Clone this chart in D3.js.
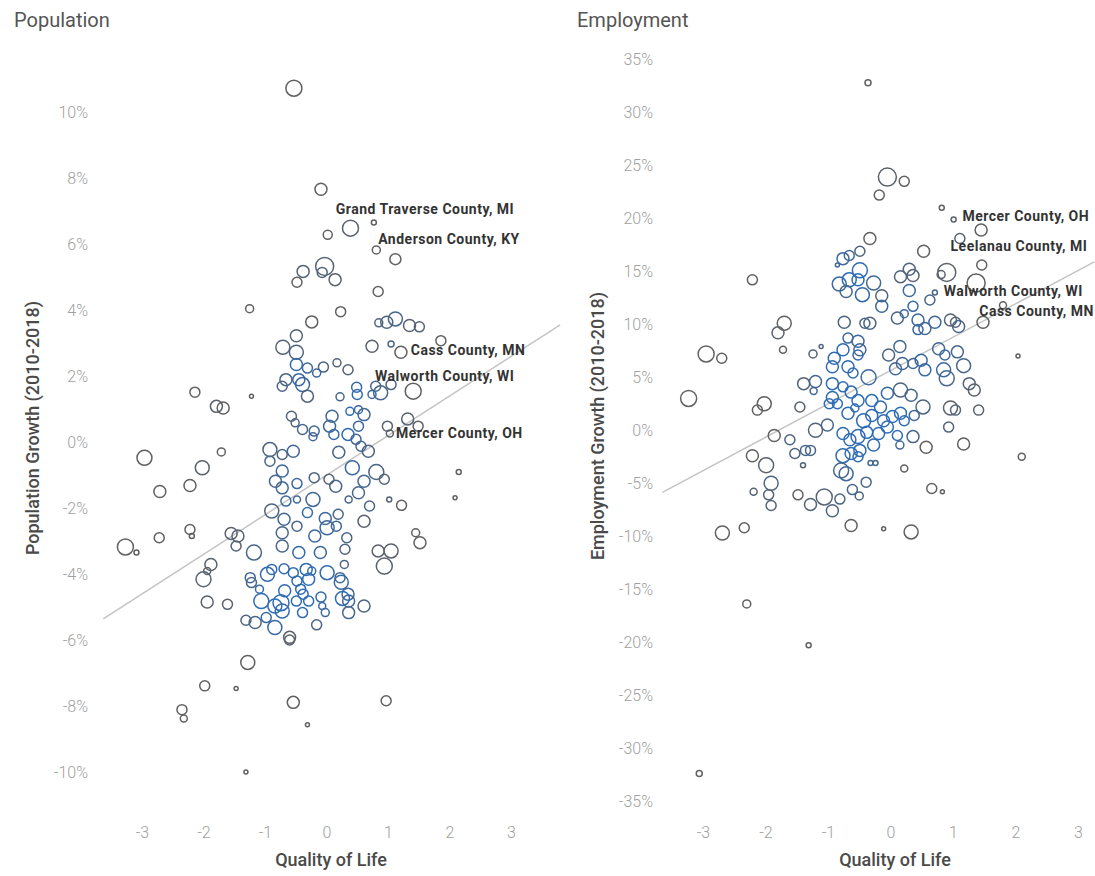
<!DOCTYPE html>
<html>
<head>
<meta charset="utf-8">
<script src="https://cdn.jsdelivr.net/npm/d3@7"></script>
<style>
  body { margin: 0; background: #fff; }
  svg { display: block; font-family: Roboto, "Noto Sans", sans-serif; }
</style>
</head>
<body>
<div id="chart"></div>
<script>
// quality of life, growth %, radius
const popPoints = [
  [-0.53,10.72,8],[-0.09,7.66,6],[0.39,6.48,8],[0.77,6.65,2.5],[0.02,6.28,4.5],[0.81,5.82,4],
  [1.12,5.54,5.5],[-0.03,5.32,9],[-0.38,5.17,6],[-0.48,4.84,5],[-0.07,5.14,5],[0.14,4.92,6],
  [0.84,4.56,5],[-1.25,4.04,4],[0.23,3.95,5],[-0.24,3.64,6],[0.98,3.63,6],[1.12,3.73,7],
  [1.35,3.53,6],[1.51,3.49,5],[0.85,3.61,4],[-0.49,3.22,6],[-0.71,2.87,7],[-0.49,2.72,7],
  [0.74,2.90,6],[1.05,2.97,3],[1.21,2.72,6],[1.86,3.07,5],[-0.49,2.35,6],[-0.31,2.24,5],
  [-0.05,2.27,5],[0.17,2.40,4],[0.35,2.19,5],[-0.16,2.09,4],[-0.66,1.89,6],[-0.45,1.89,6],
  [-0.72,1.69,5],[-0.39,1.74,7],[-0.31,1.39,6],[0.49,1.66,5],[0.50,1.44,5],[0.22,1.37,4],
  [0.80,1.69,5],[0.88,1.49,7],[1.05,1.74,5],[1.41,1.54,8],[0.74,1.44,4],[-2.14,1.51,5],
  [-1.22,1.39,2],[-1.79,1.08,6],[-1.68,1.03,6],[-0.57,0.78,5],[-0.51,0.58,4],[-0.39,0.38,5],
  [-0.20,0.33,5],[-0.22,0.16,4],[0.09,0.78,6],[0.05,0.48,6],[0.12,0.23,5],[0.38,0.93,4],
  [0.52,0.98,4],[0.61,0.83,6],[0.52,0.48,5],[0.35,0.23,6],[0.48,0.08,5],[0.56,-0.13,5],
  [0.68,-0.28,6],[0.99,0.48,5],[1.32,0.70,6],[1.49,0.48,5],[1.03,0.26,3.5],[-0.92,-0.23,7],
  [-0.72,-0.38,5],[-0.54,-0.28,6],[-0.92,-0.58,5],[0.20,-0.31,6],[-2.96,-0.48,7.5],[-1.71,-0.30,4],
  [-2.02,-0.78,7],[-2.22,-1.32,6],[-2.71,-1.50,6],[-0.72,-0.88,6],[-0.83,-1.19,6],[-0.72,-1.39,6],
  [-0.48,-1.26,5],[-0.20,-1.08,5],[0.04,-1.13,5],[0.15,-1.34,6],[0.42,-0.78,7],[0.81,-0.91,7.5],
  [0.61,-1.19,6],[0.94,-1.13,5],[0.52,-1.54,6],[0.70,-1.94,5],[1.22,-1.92,5],[1.02,-1.74,2.5],
  [2.15,-0.91,2.5],[2.09,-1.69,2],[-0.22,-1.74,7],[-0.66,-1.79,5],[-0.48,-1.74,3.5],[0.36,-1.74,3.5],
  [-0.89,-2.09,7],[-0.31,-2.14,5],[0.19,-2.19,5],[-0.02,-2.32,6],[-0.69,-2.34,6],[-0.48,-2.55,5],
  [0.61,-2.40,6],[0.01,-2.60,7],[0.16,-2.55,5],[-0.72,-2.75,6],[-0.19,-2.85,6],[0.33,-2.90,5],
  [-2.22,-2.65,5],[-2.19,-2.85,2.5],[-1.55,-2.77,6],[-1.44,-2.85,6],[-1.47,-3.15,5],[-1.18,-3.35,7.5],
  [-2.72,-2.90,5],[-3.27,-3.18,8],[-3.09,-3.35,2.5],[-0.72,-3.15,6],[-0.45,-3.35,6],[-0.10,-3.35,6],
  [0.30,-3.25,5],[0.84,-3.30,6],[1.05,-3.30,7],[0.94,-3.76,8],[1.45,-2.75,4],[1.52,-3.05,6],
  [0.29,-3.71,4],[-1.88,-3.71,6],[-0.89,-3.86,5],[-0.69,-3.84,5],[-0.33,-3.86,6],[0.01,-3.96,7],
  [0.22,-4.11,5],[-1.24,-4.11,5],[-2.00,-4.16,7.5],[-1.94,-3.91,3.5],[-1.22,-4.26,5],[-0.96,-4.01,7],
  [-0.54,-3.96,5],[-0.48,-4.21,5],[-0.29,-4.16,6],[-0.24,-3.91,4],[0.24,-4.25,7],[-1.09,-4.46,4],
  [-0.68,-4.51,6],[-0.42,-4.46,5],[-0.38,-4.61,5],[-0.09,-4.70,5],[0.35,-4.61,6],[-1.94,-4.85,6],
  [-1.61,-4.92,5],[-1.06,-4.82,7.5],[-0.74,-4.87,8],[-0.84,-4.97,7],[-0.49,-4.82,5],[-0.29,-4.82,5],
  [-0.07,-4.97,3.5],[0.26,-4.74,7],[0.36,-4.82,6],[0.61,-4.97,6],[-0.72,-5.12,7],[-0.39,-5.17,5],
  [-0.02,-5.17,4],[0.36,-5.17,6],[-1.31,-5.40,5],[-1.16,-5.47,6],[-0.98,-5.32,5],[-0.84,-5.62,7],
  [-0.16,-5.54,5],[-0.60,-5.92,6],[-0.60,-6.00,5],[-1.28,-6.68,7],[-1.98,-7.39,5],[-1.47,-7.47,2],
  [-0.54,-7.89,6],[0.97,-7.84,5],[-2.35,-8.11,5],[-2.32,-8.38,3.5],[-0.31,-8.57,2],[-1.31,-10.0,2]
];

const empPoints = [
  [-0.36,32.8,3],[-0.05,23.9,9],[0.22,23.5,5],[-0.18,22.2,5],[0.82,21.0,2.5],[1.01,19.9,2.5],
  [1.45,18.9,6],[1.11,18.1,5],[-0.33,18.1,6],[-0.49,16.9,5],[0.53,16.9,6],[-0.66,16.5,5],
  [-0.76,16.2,6],[-0.85,15.6,2],[1.46,15.6,5],[-0.49,15.1,7.5],[0.30,15.2,6],[0.90,14.9,9],
  [0.81,14.7,4],[1.37,13.9,9],[-2.21,14.2,5],[-0.82,13.8,7],[-0.66,14.2,7],[-0.52,14.2,6],
  [-0.27,13.9,7],[0.16,14.5,6],[0.36,14.6,6],[-0.71,13.1,6],[-0.45,12.8,7],[-0.14,12.7,6],
  [0.30,13.2,6],[0.71,13.0,2.5],[-0.14,11.7,6],[0.36,11.7,5],[0.63,12.3,5],[1.80,11.8,3.5],
  [1.48,10.2,6],[0.11,10.6,6],[0.22,11.0,4],[0.44,10.4,6],[0.55,9.6,6],[0.71,10.2,6],
  [0.96,10.4,6],[1.09,9.8,6],[1.04,10.2,5],[0.44,9.5,5],[-0.74,10.2,6],[-0.41,10.1,5],
  [-0.33,10.1,6],[-1.70,10.1,7],[-1.80,9.2,6],[-1.72,7.6,3.5],[-2.95,7.2,8],[-2.70,6.8,5],
  [-3.23,3.0,8],[-1.24,7.2,4],[-1.11,7.9,2],[-0.68,8.7,5],[-0.52,8.4,6],[-0.49,7.6,6],
  [-0.76,7.6,6],[-0.90,6.8,6],[-0.52,7.1,5],[-0.03,7.1,6],[0.15,7.9,6],[0.77,7.7,6],
  [0.87,7.1,5],[1.07,7.4,6],[1.17,6.1,7],[2.04,7.0,2],[-0.93,6.0,6],[-0.68,6.0,6],
  [-0.60,5.4,5],[-0.35,5.0,7.5],[0.08,5.8,6],[0.19,6.3,6],[0.36,6.3,5],[0.49,6.6,6],
  [0.55,5.7,6],[0.85,5.7,7],[0.90,4.9,7.5],[1.26,4.4,6],[1.34,3.8,6],[-1.39,4.4,6],
  [-1.20,4.6,6],[-1.23,3.7,3.5],[-0.93,4.4,6],[-0.76,4.1,5],[-0.63,3.6,6],[-0.93,3.1,6],
  [-0.85,2.5,5],[-0.98,2.5,5],[-0.52,2.8,6],[-0.30,2.8,6],[-0.16,2.2,6],[-0.05,3.5,6],
  [0.16,3.8,7],[0.33,3.3,6],[0.52,2.2,7],[0.38,1.4,5],[0.16,1.6,6],[0.03,1.3,6],
  [-0.11,0.9,6],[-0.30,1.4,6],[-0.43,0.9,7],[-0.68,1.6,6],[-0.57,2.1,4],[0.96,2.1,7],
  [1.04,1.9,5],[1.41,1.9,5],[0.93,0.3,5],[1.17,-1.3,6],[2.10,-2.5,3.5],[-2.02,2.5,7],
  [-2.13,1.9,5],[-1.45,2.2,5],[-1.86,-0.5,6],[-1.61,-0.9,5],[-1.53,-2.2,5],[-1.28,-1.9,5],
  [-1.36,-1.9,5],[-1.20,0.0,7],[-1.01,0.5,6],[-0.76,-0.3,6],[-0.65,-0.9,6],[-0.52,-0.6,7],
  [-0.38,-0.2,6],[-0.19,-0.3,6],[-0.05,0.3,6],[-0.27,-1.4,6],[-0.49,-1.9,6],[-0.63,-2.2,6],
  [-0.76,-2.4,7],[-0.52,-2.5,5],[0.11,-0.5,5],[0.36,-0.6,6],[0.15,-1.4,4],[0.57,-1.6,6],
  [0.22,0.9,5],[-2.21,-2.4,6],[-1.99,-3.3,7.5],[-1.91,-5.0,7],[-1.95,-6.1,5],[-1.91,-7.1,5],
  [-2.19,-5.8,3.5],[-1.40,-3.3,2.5],[-1.48,-6.1,5],[-1.28,-7.0,6],[-1.06,-6.3,8],[-0.93,-7.6,6],
  [-0.81,-6.5,5],[-0.79,-3.8,7.5],[-0.71,-4.1,7],[-0.61,-5.6,5],[-0.50,-6.2,4],[-0.39,-4.9,5],
  [-0.32,-3.1,2.5],[-0.24,-3.1,2.5],[0.22,-3.6,3.5],[0.66,-5.5,5],[0.83,-5.8,2],[-0.63,-9.0,6],
  [-0.11,-9.3,2],[0.33,-9.6,7],[-2.69,-9.7,7],[-2.34,-9.2,5],[-2.30,-16.4,4],[-1.31,-20.3,2.5],
  [-3.06,-32.4,3]
];

const popLabels = [
  ["Grand Traverse County, MI", 0.15, 6.90],
  ["Anderson County, KY", 0.84, 6.00],
  ["Cass County, MN", 1.37, 2.64],
  ["Walworth County, WI", 0.79, 1.86],
  ["Mercer County, OH", 1.13, 0.11]
];
const empLabels = [
  ["Mercer County, OH", 1.15, 19.75],
  ["Leelanau County, MI", 0.96, 16.9],
  ["Walworth County, WI", 0.85, 12.7],
  ["Cass County, MN", 1.42, 10.8]
];

// fitted line end points
const popTrend = [[-3.63, -5.36], [3.80, 3.55]];
const empTrend = [[-3.65, -5.86], [3.26, 15.9]];

const qolTicks = [-3, -2, -1, 0, 1, 2, 3];
const popTicks = [-10, -8, -6, -4, -2, 0, 2, 4, 6, 8, 10];
const empTicks = [-35, -30, -25, -20, -15, -10, -5, 0, 5, 10, 15, 20, 25, 30, 35];

const W = 1095, H = 876;
const grey = "#616161", blue = "#2f6cb5";

const svg = d3.select("#chart").append("svg")
  .attr("width", W)
  .attr("height", H);

svg.append("rect").attr("width", W).attr("height", H).attr("fill", "#fff");

const panels = [
  {
    title: "Population", titleX: 14,
    yTitle: "Population Growth (2010-2018)", yTitleX: 32, yTitleY: 428,
    axisX: 88, xRange: [142, 511], xTitleX: 331,
    yDomain: [-10, 10], yRange: [772, 112], yTicks: popTicks,
    points: popPoints, labels: popLabels, trend: popTrend
  },
  {
    title: "Employment", titleX: 577,
    yTitle: "Employment Growth (2010-2018)", yTitleX: 597, yTitleY: 426,
    axisX: 653, xRange: [703, 1078], xTitleX: 895,
    yDomain: [-35, 35], yRange: [801, 59.5], yTicks: empTicks,
    points: empPoints, labels: empLabels, trend: empTrend
  }
];

panels.forEach(p => drawPanel(p));

function drawPanel(p) {
  const g = svg.append("g");

  const x = d3.scaleLinear().domain([-3, 3]).range(p.xRange);
  const y = d3.scaleLinear().domain(p.yDomain).range(p.yRange);

  // title
  g.append("text")
    .attr("x", p.titleX)
    .attr("y", 27)
    .attr("font-size", 20)
    .attr("fill", "#555")
    .text(p.title);

  // y axis
  const yAxis = g.append("g")
    .attr("transform", `translate(${p.axisX},0)`)
    .call(d3.axisLeft(y).tickValues(p.yTicks).tickSize(0).tickPadding(0).tickFormat(d => d + "%"));
  yAxis.select(".domain").remove();
  yAxis.selectAll("text")
    .attr("font-family", "Roboto, sans-serif")
    .attr("font-size", 16)
    .attr("font-weight", 300)
    .attr("fill", "#a0a0a0");

  // x axis
  const xAxis = g.append("g")
    .attr("transform", "translate(0,827)")
    .call(d3.axisBottom(x).tickValues(qolTicks).tickSize(0).tickPadding(0).tickFormat(d3.format("d")));
  xAxis.select(".domain").remove();
  xAxis.selectAll("text")
    .attr("font-family", "Roboto, sans-serif")
    .attr("font-size", 16)
    .attr("font-weight", 300)
    .attr("fill", "#a0a0a0")
    .text(d => String(d));

  // axis titles
  g.append("text")
    .attr("x", p.xTitleX)
    .attr("y", 866)
    .attr("text-anchor", "middle")
    .attr("font-size", 18)
    .attr("font-weight", 500)
    .attr("fill", "#4a4a4a")
    .text("Quality of Life");

  g.append("text")
    .attr("transform", `translate(${p.yTitleX},${p.yTitleY}) rotate(-90)`)
    .attr("text-anchor", "middle")
    .attr("dominant-baseline", "central")
    .attr("font-size", 18)
    .attr("font-weight", 500)
    .attr("fill", "#4a4a4a")
    .text(p.yTitle);

  // trend line
  g.append("path")
    .datum(p.trend)
    .attr("d", d3.line().x(d => x(d[0])).y(d => y(d[1])))
    .attr("fill", "none")
    .attr("stroke", "#c4c4c4")
    .attr("stroke-width", 1.5);

  // colour by how crowded the neighbourhood is
  const pts = p.points.map(d => ({ px: x(d[0]), py: y(d[1]), r: d[2] }));
  const tone = d3.scaleLinear().domain([1, 9]).range([0, 1]).clamp(true);
  const mix = d3.interpolateRgb(grey, blue);
  pts.forEach(a => {
    a.n = pts.filter(b => Math.hypot(a.px - b.px, a.py - b.py) < 26).length - 1;
  });

  g.append("g").selectAll("circle")
    .data(pts)
    .join("circle")
    .attr("cx", d => d.px)
    .attr("cy", d => d.py)
    .attr("r", d => d.r)
    .attr("fill", "none")
    .attr("stroke", d => mix(tone(d.n)))
    .attr("stroke-width", 1.5);

  // county labels
  g.append("g").selectAll("text")
    .data(p.labels)
    .join("text")
    .attr("x", d => x(d[1]))
    .attr("y", d => y(d[2]))
    .attr("font-size", 14)
    .attr("font-weight", 700)
    .attr("letter-spacing", 0.5)
    .attr("fill", "#333")
    .text(d => d[0]);
}
</script>
</body>
</html>
